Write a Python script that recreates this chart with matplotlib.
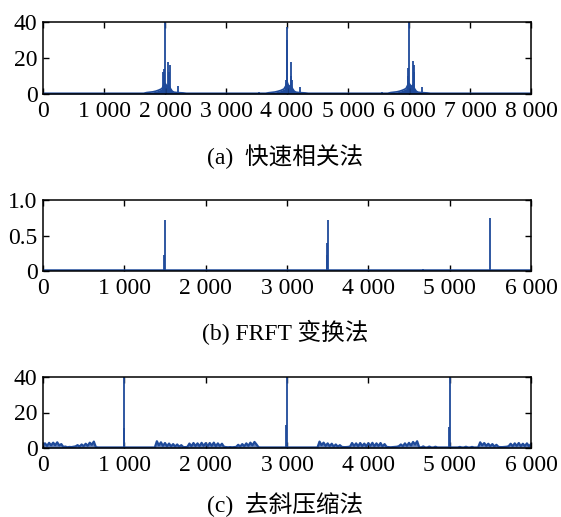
import numpy as np
import matplotlib
matplotlib.use('Agg')
import matplotlib.pyplot as plt

plt.rcParams['font.family'] = ['Liberation Serif', 'Noto Sans CJK SC']
plt.rcParams['font.size'] = 17

BLUE = '#1f4a9a'

# (a) fast correlation: broad base under each echo plus narrow spikes
a_env_x = [0, 1650, 1700, 1800, 1850, 1900, 1950, 1980, 2000, 2020, 2040, 2060, 2090, 2120, 2150, 2200, 2300, 2350,
           3650, 3700, 3800, 3850, 3900, 3950, 3980, 4000, 4020, 4040, 4060, 4090, 4120, 4150, 4200, 4300, 4350,
           5650, 5700, 5800, 5850, 5900, 5950, 5980, 6000, 6020, 6040, 6060, 6090, 6120, 6150, 6200, 6300, 6350, 8000]
a_env_y = [0.4, 0.4, 0.8, 1.2, 1.6, 2.2, 3.0, 5, 6, 5, 4, 5, 3, 1.5, 1.0, 0.8, 0.6, 0.4,
           0.4, 0.7, 1.1, 1.5, 2.0, 2.8, 4.5, 7, 5, 4, 5, 3, 1.5, 1.0, 0.8, 0.6, 0.4,
           0.4, 0.8, 1.2, 1.6, 2.2, 3.0, 5, 6, 5, 4, 5, 3, 1.5, 1.0, 0.8, 0.6, 0.4, 0.4]
a_spike_x = [1972, 1980, 1990, 2000, 2055, 2063, 2080, 2213, 3536,
             3985, 3992, 4000, 4058, 4066, 4085, 4215, 5560,
             5980, 5988, 5995, 6066, 6074, 6087, 6213]
a_spike_y = [12, 14, 9, 40, 18, 12, 16, 4.4, 1,
             8, 30, 37.5, 18, 10, 8, 4, 1,
             14.6, 10, 40, 18.5, 12, 16, 4]
a_xticks = [0, 1000, 2000, 3000, 4000, 5000, 6000, 7000, 8000]
a_xlabels = ['0', '1 000', '2 000', '3 000', '4 000', '5 000', '6 000', '7 000', '8 000']
a_yticks = [0, 20, 40]
a_ylabels = ['0', '20', '40']

# (b) FRFT
b_base_x = [0, 6000]
b_base_y = [0.012, 0.012]
b_spike_x = [1490, 1500, 3488, 3494, 3500, 4670, 5500]
b_spike_y = [0.22, 0.725, 0.22, 0.40, 0.725, 0.025, 0.74]
b_xticks = [0, 1000, 2000, 3000, 4000, 5000, 6000]
b_xlabels = ['0', '1 000', '2 000', '3 000', '4 000', '5 000', '6 000']
b_yticks = [0, 0.5, 1.0]
b_ylabels = ['0', '0.5', '1.0']

# (c) dechirp: noise floor sampled every 25, plus spikes
c_noise_x = np.arange(0, 6001, 25)
c_noise_y = ([1.8, 2.6, 1.2, 2.9, 1.5, 3.0, 1.6, 3.2, 1.4, 2.2, 0.6, 0.8, 0.4, 0.6, 0.5, 0.7, 0.9, 1.6, 0.8, 2.0]
             + [1.0, 2.4, 1.2, 3.0, 1.8, 3.6, 0.5] + [0.3] * 13
             + [0.3] * 16 + [3.8, 1.5, 3.2, 1.2]
             + [2.8, 1.0, 2.5, 0.9, 2.2, 0.8, 2.0, 0.7, 1.6, 0.5, 0.5, 0.6, 2.5, 1.0, 2.8, 1.1, 2.6, 1.0, 2.9, 1.2]
             + [2.7, 1.0, 2.8, 1.2, 3.0, 1.0, 2.6, 1.1, 2.4, 0.7, 0.5, 0.4, 0.5, 0.4, 0.5, 0.6, 1.8, 0.8, 2.2, 1.0]
             + [2.6, 1.2, 3.0, 1.5, 3.4, 2.0, 0.4] + [0.3] * 13
             + [0.3] * 16 + [3.6, 1.6, 3.0, 1.2]
             + [2.6, 1.0, 2.4, 0.8, 2.0, 0.7, 1.6, 0.6, 0.5, 0.5, 0.6, 0.8, 2.8, 1.2, 2.6, 1.0, 2.8, 1.1, 2.5, 1.0]
             + [2.7, 1.2, 2.9, 1.0, 2.6, 1.1, 2.8, 0.9, 2.2, 0.6, 0.5, 0.4, 0.5, 0.6, 0.7, 1.0, 2.0, 1.0, 2.6, 1.2]
             + [2.9, 1.4, 3.4, 2.0, 3.8, 0.5, 0.3, 0.9, 0.3, 0.3, 0.8, 0.3, 0.3, 0.7, 0.3, 0.3, 0.3, 0.3, 0.3, 0.3]
             + [0.3, 0.3, 0.3, 0.3, 0.3, 0.6, 0.3, 0.3, 0.7, 0.3, 0.3, 0.6, 0.3, 0.3, 0.3, 3.2, 1.5, 2.8, 1.2, 2.4]
             + [1.0, 2.2, 0.8, 1.8, 0.6, 0.5, 0.5, 0.6, 0.7, 1.0, 2.4, 1.0, 2.6, 1.2, 2.8, 1.0, 2.4, 1.1, 2.6, 1.0, 2.2])
c_spike_x = [990, 1000, 2990, 3000, 4990, 5000]
c_spike_y = [11, 40, 13, 40, 12, 40]
c_xticks = b_xticks
c_xlabels = b_xlabels
c_yticks = [0, 20, 40]
c_ylabels = ['0', '20', '40']

captions = ['(a)  快速相关法', '(b) FRFT 变换法', '(c)  去斜压缩法']


def style_axes(ax, xmax, ymax, xticks, xlabels, yticks, ylabels):
    ax.set_xlim(0, xmax)
    ax.set_ylim(0, ymax)
    ax.set_xticks(xticks)
    ax.set_xticklabels(xlabels)
    ax.set_yticks(yticks)
    ax.set_yticklabels(ylabels)
    ax.tick_params(direction='in', top=True, right=True, length=4, width=1)
    ax.tick_params(axis='x', pad=5)
    ax.tick_params(axis='y', pad=4)
    for s in ax.spines.values():
        s.set_linewidth(1.1)


fig = plt.figure(figsize=(5.61, 5.17), dpi=100)
W, H = 561, 517
def box(top, bottom, left=43, right=531):
    return [left / W, 1 - bottom / H, (right - left) / W, (bottom - top) / H]

ax1 = fig.add_axes(box(22, 94))
ax1.fill_between(a_env_x, 0, a_env_y, color=BLUE, lw=0)
ax1.plot(a_env_x, a_env_y, color=BLUE, lw=1.2)
ax1.vlines(a_spike_x, 0, a_spike_y, color=BLUE, lw=1.3)
style_axes(ax1, 8000, 40, a_xticks, a_xlabels, a_yticks, a_ylabels)

ax2 = fig.add_axes(box(200, 271))
ax2.plot(b_base_x, b_base_y, color=BLUE, lw=1.8)
ax2.vlines(b_spike_x, 0, b_spike_y, color=BLUE, lw=1.3)
style_axes(ax2, 6000, 1.0, b_xticks, b_xlabels, b_yticks, b_ylabels)

ax3 = fig.add_axes(box(377, 448))
ax3.fill_between(c_noise_x, 0, c_noise_y, color=BLUE, alpha=0.7, lw=0)
ax3.plot(c_noise_x, c_noise_y, color=BLUE, lw=1.6)
ax3.vlines(c_spike_x, 0, c_spike_y, color=BLUE, lw=1.3)
style_axes(ax3, 6000, 40, c_xticks, c_xlabels, c_yticks, c_ylabels)

for cap, y in zip(captions, [157, 332, 505]):
    fig.text(285 / W, 1 - y / H, cap, ha='center', va='center', fontsize=17)

fig.savefig('out.png', dpi=100, facecolor='white')
